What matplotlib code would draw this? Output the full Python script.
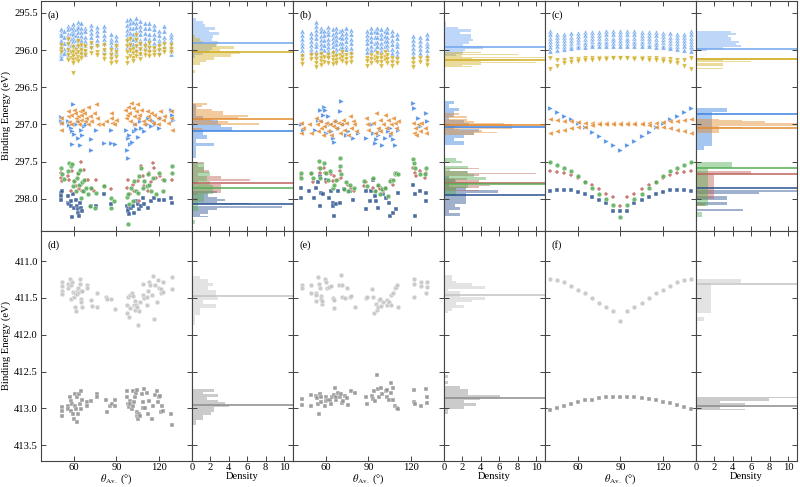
import numpy as np
import matplotlib.pyplot as plt

plt.rcParams['font.family'] = ['Liberation Serif', 'DejaVu Serif']
plt.rcParams['mathtext.fontset'] = 'stix'
plt.rcParams['font.size'] = 7.6

# ---------------- data (theta in deg, binding energy in eV) ----------------
# panel (a): columns of (theta, [energies])
a_lblue = [
    (51.0, [295.72, 295.77, 295.80, 295.86, 295.88, 295.93, 295.96, 296.02, 296.06, 296.11]),
    (53.0, [295.75, 295.83, 295.90, 295.98, 296.04]),
    (55.5, [295.68, 295.72, 295.78, 295.82, 295.88, 295.91, 295.96, 296.00, 296.07]),
    (57.5, [295.71, 295.77, 295.85, 295.93, 296.01]),
    (59.0, [295.65, 295.70, 295.75, 295.79, 295.84, 295.88, 295.93, 295.97, 296.03, 296.08]),
    (61.0, [295.72, 295.80, 295.87, 295.95]),
    (62.5, [295.62, 295.67, 295.71, 295.76, 295.82, 295.86, 295.91, 295.95, 296.01]),
    (64.5, [295.64, 295.70, 295.76, 295.81, 295.87, 295.93, 295.98, 296.04]),
    (67.5, [295.70, 295.75, 295.82, 295.88, 295.93, 296.00, 296.05]),
    (72.0, [295.66, 295.72, 295.77, 295.83, 295.89, 295.94]),
    (76.0, [295.69, 295.74, 295.80, 295.86, 295.92]),
    (81.5, [295.67, 295.73, 295.80, 295.85, 295.91, 295.98, 296.03]),
    (86.0, [295.79, 295.85, 295.89, 295.95, 296.01, 296.07]),
    (89.5, [295.81, 295.86, 295.92, 295.96, 296.02]),
    (97.5, [295.60, 295.66, 295.73, 295.78, 295.84, 295.90, 295.96]),
    (99.5, [295.58, 295.64, 295.71, 295.77, 295.83, 295.89, 295.94, 296.00]),
    (102.0, [295.62, 295.70, 295.78, 295.85, 295.92]),
    (104.0, [295.57, 295.63, 295.69, 295.76, 295.81, 295.87, 295.93, 295.99]),
    (107.0, [295.61, 295.67, 295.73, 295.79, 295.86, 295.91, 295.97, 296.04]),
    (110.0, [295.63, 295.70, 295.77, 295.84, 295.90, 295.96]),
    (113.0, [295.64, 295.71, 295.78, 295.85, 295.92, 295.98]),
    (117.0, [295.66, 295.72, 295.78, 295.84, 295.90, 295.96]),
    (120.5, [295.75, 295.80, 295.86, 295.91, 295.97, 296.03]),
    (124.0, [295.68, 295.75, 295.82, 295.88, 295.95]),
    (129.0, [295.78, 295.83, 295.88, 295.94, 296.00, 296.05]),
]
a_gold = [
    (51.0, [295.93, 295.98, 296.03]),
    (55.5, [295.85, 295.92, 296.00, 296.07, 296.14]),
    (57.5, [296.02, 296.10]),
    (59.0, [295.96, 296.02, 296.08, 296.13, 296.18, 296.31]),
    (61.0, [296.00, 296.05, 296.12]),
    (62.5, [295.88, 295.95, 296.02, 296.09, 296.15]),
    (64.5, [295.93, 296.00, 296.05, 296.11]),
    (67.5, [295.95, 296.01, 296.06]),
    (72.0, [295.90, 295.97, 296.04]),
    (76.0, [295.95, 296.02, 296.07]),
    (81.5, [295.93, 296.00, 296.07, 296.12]),
    (86.0, [296.00, 296.06, 296.12, 296.17]),
    (89.5, [295.94, 296.02, 296.09, 296.16]),
    (97.5, [295.88, 295.95, 296.03, 296.10, 296.17]),
    (99.5, [295.85, 295.93, 296.00, 296.08]),
    (102.0, [295.98, 296.04, 296.11, 296.15]),
    (104.0, [295.80, 295.87, 295.95, 296.02, 296.08]),
    (107.0, [295.92, 295.99, 296.05, 296.12]),
    (110.0, [295.95, 296.01, 296.07]),
    (113.0, [295.90, 295.97, 296.03, 296.08]),
    (117.0, [295.97, 296.03, 296.07]),
    (120.5, [295.95, 296.00, 296.06]),
    (124.0, [295.92, 295.98, 296.03]),
    (129.0, [295.93, 295.98, 296.02]),
]
# panel (a): single points (theta, energy)
a_orange = [
    (51.0, 296.91), (51.0, 296.98), (51.0, 297.08), (55.3, 296.82), (55.3, 296.89),
    (56.4, 296.97), (57.6, 296.87), (58.1, 297.00), (60.0, 296.80), (60.7, 296.85),
    (61.2, 296.91), (61.9, 296.96), (62.8, 296.89), (63.6, 297.00), (64.3, 296.82),
    (64.7, 296.87), (65.2, 296.94), (65.9, 296.80), (67.1, 296.85), (67.6, 296.96),
    (68.3, 296.91), (69.5, 296.76), (69.5, 297.00), (71.4, 296.89), (71.8, 296.96),
    (74.2, 296.85), (75.4, 296.73), (76.1, 296.91), (76.6, 297.00), (80.1, 297.00),
    (82.5, 296.96), (86.1, 296.85), (86.5, 296.91), (87.2, 296.98), (88.4, 297.00),
    (89.6, 296.94), (96.0, 296.80), (96.7, 296.91), (97.4, 296.87), (98.4, 296.76),
    (99.1, 296.85), (99.8, 296.96), (100.3, 296.71), (101.5, 296.78), (102.2, 296.89),
    (102.7, 297.00), (103.8, 296.82), (104.5, 296.73), (105.0, 296.91), (106.2, 296.87),
    (107.4, 296.80), (108.6, 296.96), (109.8, 297.00), (111.7, 296.82), (112.1, 296.89),
    (113.3, 296.94), (114.5, 296.85), (115.7, 296.98), (116.9, 296.87), (119.2, 296.91),
    (119.7, 297.00), (121.1, 296.82), (122.8, 296.94), (124.0, 296.89), (126.3, 296.98),
    (128.7, 296.82), (128.7, 296.91), (129.4, 297.08),
]
a_blue = [
    (51.0, 296.90), (51.0, 296.95), (51.7, 296.98), (55.3, 296.96), (56.4, 297.01),
    (57.6, 297.05), (58.8, 297.09), (58.8, 297.26), (59.5, 296.73), (60.0, 297.13),
    (61.2, 297.00), (62.4, 296.96), (62.8, 297.18), (64.3, 297.27), (64.7, 297.08),
    (65.9, 297.14), (67.1, 297.02), (68.3, 297.00), (71.8, 297.19), (72.3, 297.35),
    (75.4, 297.08), (81.3, 297.25), (86.1, 297.07), (86.5, 297.25), (88.9, 297.26),
    (96.7, 297.07), (97.4, 297.34), (97.9, 297.45), (98.4, 297.18), (99.1, 297.14),
    (99.8, 297.26), (100.8, 297.23), (102.2, 297.09), (103.1, 297.00), (103.8, 297.06),
    (105.5, 297.17), (106.9, 296.96), (107.4, 297.05), (109.8, 297.09), (111.7, 297.00),
    (112.6, 296.91), (114.5, 297.02), (115.7, 296.96), (117.3, 297.00), (120.4, 297.05),
    (121.1, 296.91), (128.7, 296.80), (129.2, 296.87), (129.9, 296.94),
]
a_green = [
    (51.0, 297.58), (51.7, 297.67), (52.9, 297.73), (55.3, 297.63), (56.4, 297.52),
    (57.6, 297.56), (58.8, 297.53), (59.5, 297.83), (60.0, 297.76), (61.2, 297.90),
    (61.9, 297.72), (62.8, 297.65), (63.6, 297.81), (64.3, 297.61), (64.7, 297.99),
    (65.9, 297.77), (66.6, 297.89), (67.1, 297.74), (68.3, 297.85), (69.5, 297.94),
    (71.4, 298.10), (71.8, 297.85), (74.7, 298.12), (75.4, 297.92), (81.3, 297.83),
    (86.1, 297.99), (86.1, 298.12), (88.4, 298.03), (97.4, 297.98), (97.9, 298.34),
    (98.4, 297.94), (99.1, 298.07), (100.3, 297.85), (101.5, 298.03), (102.7, 297.76),
    (103.8, 297.90), (105.0, 297.92), (106.2, 297.69), (107.4, 297.58), (108.6, 297.85),
    (109.8, 297.76), (111.7, 297.83), (112.1, 297.67), (113.3, 297.81), (114.5, 297.90),
    (115.7, 297.72), (118.1, 297.94), (120.4, 297.65), (122.8, 297.90), (124.0, 297.74),
    (129.2, 297.56), (129.2, 297.65),
]
a_red = [
    (51.0, 297.65), (51.0, 297.72), (51.7, 297.76), (55.3, 297.69), (56.4, 297.74),
    (57.6, 297.90), (58.8, 297.63), (60.0, 297.76), (61.2, 297.83), (62.4, 297.67),
    (63.6, 297.87), (64.7, 297.81), (65.2, 297.50), (65.9, 297.90), (67.1, 297.61),
    (68.3, 297.74), (69.5, 297.75), (71.8, 297.85), (73.0, 297.87), (74.2, 297.90),
    (75.4, 297.74), (81.3, 297.83), (86.1, 297.87), (97.4, 297.85), (98.4, 297.74),
    (99.8, 297.94), (101.5, 297.81), (102.7, 297.90), (105.0, 297.76), (106.2, 298.03),
    (107.4, 297.56), (108.6, 297.69), (109.8, 297.83), (112.1, 297.90), (113.3, 297.65),
    (114.5, 297.78), (115.7, 297.52), (116.9, 297.58), (118.1, 297.72), (121.1, 297.69),
    (122.8, 297.74), (129.2, 297.74),
]
a_dblue = [
    (51.0, 297.92), (51.0, 297.96), (51.0, 298.01), (51.7, 297.90), (55.3, 297.96),
    (55.7, 298.05), (56.4, 298.07), (57.6, 298.03), (58.1, 298.10), (58.8, 298.25),
    (59.5, 297.94), (60.0, 298.12), (61.2, 298.01), (61.9, 298.10), (62.4, 298.14),
    (62.8, 298.19), (63.6, 298.23), (64.3, 298.05), (64.7, 298.12), (65.9, 298.16),
    (67.1, 297.90), (71.8, 298.10), (75.4, 298.10), (81.3, 297.94), (86.1, 298.07),
    (97.4, 298.10), (97.9, 298.14), (98.4, 298.16), (99.1, 298.21), (100.3, 298.12),
    (101.5, 298.10), (102.7, 298.19), (103.8, 298.03), (105.0, 298.07), (106.2, 298.14),
    (107.4, 298.10), (108.6, 297.99), (109.8, 298.07), (112.1, 298.12), (114.5, 298.03),
    (116.9, 297.99), (120.4, 298.01), (124.0, 298.01), (128.7, 297.99), (129.2, 298.05),
]

# panel (b)
b_lblue = [
    (42.5, [295.75, 295.80, 295.85, 295.90, 295.95, 296.00, 296.05]),
    (48.9, [295.77, 295.82, 295.88, 295.93, 295.98, 296.03]),
    (53.1, [295.62, 295.68, 295.73, 295.79, 295.84, 295.90, 295.95, 296.01, 296.06]),
    (56.1, [295.70, 295.75, 295.81, 295.86, 295.92, 295.97, 296.03]),
    (58.5, [295.74, 295.80, 295.87, 295.93, 296.00]),
    (61.3, [295.69, 295.74, 295.79, 295.85, 295.90, 295.96, 296.01, 296.06]),
    (64.5, [295.72, 295.78, 295.84, 295.89, 295.95, 296.01]),
    (67.3, [295.70, 295.76, 295.81, 295.87, 295.92, 295.98, 296.04]),
    (69.5, [295.75, 295.82, 295.90, 295.97]),
    (71.6, [295.73, 295.79, 295.84, 295.90, 295.96, 296.02]),
    (74.4, [295.71, 295.77, 295.82, 295.88, 295.94, 295.99]),
    (77.5, [295.73, 295.79, 295.85, 295.91, 295.97, 296.03]),
    (88.7, [295.74, 295.80, 295.85, 295.91, 295.97, 296.02]),
    (92.2, [295.70, 295.76, 295.82, 295.88, 295.94, 296.00]),
    (94.5, [295.75, 295.83, 295.90, 295.98]),
    (96.2, [295.70, 295.76, 295.83, 295.89, 295.95, 296.02]),
    (99.3, [295.72, 295.78, 295.84, 295.90, 295.96, 296.01]),
    (101.5, [295.74, 295.81, 295.88, 295.95]),
    (103.3, [295.70, 295.76, 295.82, 295.88, 295.93, 295.99]),
    (106.9, [295.74, 295.80, 295.86, 295.92, 295.98, 296.04]),
    (110.4, [295.79, 295.84, 295.90, 295.95, 296.01, 296.06]),
    (121.8, [295.81, 295.87, 295.92, 295.97, 296.03, 296.08]),
    (126.5, [295.83, 295.88, 295.93, 295.98, 296.04]),
    (131.3, [295.79, 295.84, 295.90, 295.95, 296.00, 296.06]),
]
b_gold = [
    (42.5, [296.08, 296.14, 296.19]),
    (48.9, [296.06, 296.12]),
    (53.1, [296.07, 296.12, 296.18, 296.23]),
    (56.1, [296.05, 296.10, 296.15, 296.20]),
    (58.5, [296.09, 296.16]),
    (61.3, [296.06, 296.11, 296.17]),
    (64.5, [296.04, 296.09, 296.14, 296.19]),
    (67.3, [296.08, 296.13, 296.18]),
    (69.5, [296.06, 296.12]),
    (71.6, [296.03, 296.09, 296.15]),
    (74.4, [296.07, 296.12, 296.17]),
    (77.5, [296.05, 296.10, 296.16]),
    (88.7, [296.10, 296.15, 296.21]),
    (92.2, [296.07, 296.12, 296.17]),
    (94.5, [296.09, 296.14]),
    (96.2, [296.04, 296.10, 296.16]),
    (99.3, [296.06, 296.11, 296.16, 296.21]),
    (101.5, [296.03, 296.09, 296.14]),
    (103.3, [296.07, 296.12, 296.18]),
    (106.9, [296.10, 296.16, 296.22]),
    (110.4, [296.12, 296.18]),
    (121.8, [296.12, 296.17, 296.23]),
    (126.5, [296.11, 296.16]),
    (131.3, [296.10, 296.15, 296.20]),
]
b_orange = [
    (42.2, 296.98), (42.2, 297.11), (43.4, 297.05), (48.1, 297.00), (49.3, 297.11),
    (52.9, 296.91), (53.4, 297.00), (54.1, 297.09), (55.3, 296.96), (56.4, 297.05),
    (57.6, 297.14), (58.8, 297.02), (60.0, 296.98), (61.2, 297.09), (62.4, 297.00),
    (63.6, 297.14), (64.7, 297.02), (65.9, 296.96), (67.1, 297.05), (68.3, 296.98),
    (69.5, 297.11), (70.7, 297.00), (71.8, 296.94), (73.0, 297.07), (74.2, 296.98),
    (75.4, 297.14), (76.6, 296.89), (77.8, 297.05), (79.0, 296.96), (80.1, 297.00),
    (81.3, 297.09), (88.4, 296.91), (88.9, 297.00), (89.6, 297.07), (93.2, 296.98),
    (94.4, 297.11), (95.5, 296.85), (96.7, 297.05), (97.9, 296.94), (98.4, 297.09),
    (100.3, 297.00), (101.5, 296.87), (102.7, 297.05), (103.8, 296.94), (105.0, 297.11),
    (106.2, 297.00), (107.4, 296.91), (108.6, 296.98), (109.8, 297.05), (110.9, 296.96),
    (121.6, 296.98), (122.1, 297.11), (122.8, 297.05), (124.0, 297.14), (125.2, 297.00),
    (126.3, 297.09), (127.5, 296.98), (129.9, 297.05), (131.1, 297.11),
]
b_blue = [
    (42.2, 297.00), (43.4, 297.08), (52.4, 297.07), (54.1, 296.94), (55.3, 296.80),
    (56.4, 296.96), (57.6, 296.87), (58.8, 296.76), (59.5, 296.80), (60.0, 297.11),
    (61.2, 296.89), (62.4, 297.00), (63.6, 297.09), (64.7, 297.18), (65.9, 297.23),
    (67.1, 296.96), (68.3, 297.05), (69.5, 296.82), (70.7, 296.69), (71.8, 297.00),
    (74.2, 297.14), (75.4, 297.09), (79.0, 297.18), (82.5, 297.11), (88.4, 297.18),
    (92.7, 297.00), (93.2, 297.11), (94.4, 297.25), (95.5, 297.20), (96.7, 297.14),
    (98.4, 297.07), (99.8, 297.27), (101.5, 297.18), (103.8, 297.09), (105.0, 297.05),
    (106.2, 297.14), (107.4, 297.20), (108.6, 297.27), (110.9, 297.07), (121.6, 296.71),
    (122.1, 296.78), (125.2, 296.91), (126.3, 297.02), (131.1, 296.85), (131.6, 296.96),
]
b_green = [
    (42.2, 297.65), (42.2, 297.72), (49.3, 297.65), (50.5, 297.72), (54.8, 297.49),
    (55.3, 297.58), (55.7, 297.72), (58.8, 297.52), (60.0, 297.65), (61.2, 297.74),
    (62.4, 297.63), (64.7, 297.85), (65.9, 297.81), (67.1, 297.74), (69.5, 297.45),
    (69.9, 297.56), (70.7, 297.67), (73.0, 297.87), (74.2, 297.78), (75.4, 297.90),
    (76.6, 297.81), (80.1, 297.85), (87.2, 297.76), (88.9, 297.83), (93.2, 297.72),
    (94.4, 297.90), (96.7, 297.81), (98.4, 297.94), (99.8, 297.87), (101.5, 297.85),
    (103.8, 297.96), (105.0, 297.76), (107.4, 297.74), (108.6, 297.67), (109.8, 297.65),
    (110.9, 297.67), (121.6, 297.47), (122.1, 297.52), (122.8, 297.58), (126.3, 297.67),
    (129.9, 297.67), (131.1, 297.58),
]
b_red = [
    (42.2, 297.69), (49.3, 297.67), (50.5, 297.78), (54.8, 297.58), (55.3, 297.65),
    (58.8, 297.58), (59.5, 297.65), (60.0, 297.78), (63.6, 297.67), (64.7, 297.76),
    (65.9, 297.69), (68.3, 297.74), (69.5, 297.63), (70.7, 297.72), (75.4, 297.81),
    (77.8, 297.85), (80.1, 297.90), (87.2, 297.83), (88.4, 297.78), (93.2, 297.85),
    (95.5, 297.90), (96.7, 297.83), (98.4, 297.87), (100.3, 297.90), (102.7, 297.85),
    (106.2, 297.74), (107.4, 297.81), (108.6, 297.65), (109.8, 297.67), (121.6, 297.58),
    (122.8, 297.65), (124.0, 297.69), (126.3, 297.63), (129.9, 297.72), (131.1, 297.65),
]
b_dblue = [
    (42.2, 297.85), (42.2, 297.99), (48.1, 297.90), (51.7, 297.99), (52.9, 297.85),
    (54.1, 297.78), (55.3, 297.69), (55.7, 298.10), (56.4, 297.92), (57.6, 297.94),
    (60.0, 297.74), (61.9, 297.99), (63.6, 297.90), (64.7, 298.05), (65.2, 298.10),
    (65.9, 298.23), (67.1, 298.07), (68.3, 297.90), (69.5, 298.05), (73.0, 297.87),
    (76.6, 297.90), (79.0, 298.01), (88.0, 298.14), (88.4, 297.90), (90.8, 298.03),
    (92.0, 297.90), (93.2, 297.74), (94.4, 297.96), (95.5, 298.03), (96.7, 298.12),
    (98.4, 297.85), (100.3, 297.94), (102.7, 297.99), (104.5, 298.05), (105.5, 298.23),
    (107.4, 298.19), (109.3, 298.14), (110.9, 297.92), (121.6, 297.81), (122.8, 297.94),
    (122.8, 298.23), (126.3, 297.90), (131.1, 297.92), (131.1, 298.03),
]

# panel (c): regular angle scan
theta_c = [40, 45, 50, 55, 60, 65, 70, 75, 80, 85, 90, 95, 100, 105, 110, 115, 120, 125, 130, 135, 140]
c_lblue = [
    [295.74, 295.79, 295.84, 295.88, 295.92, 295.96, 296.01],
    [295.78, 295.83, 295.87, 295.91, 295.95, 296.00],
    [295.78, 295.82, 295.86, 295.90, 295.94, 295.98],
    [295.77, 295.82, 295.86, 295.90, 295.94, 295.97],
    [295.77, 295.81, 295.85, 295.89, 295.93, 295.96],
    [295.76, 295.80, 295.85, 295.89, 295.92, 295.96],
    [295.76, 295.80, 295.84, 295.88, 295.92, 295.95],
    [295.76, 295.80, 295.84, 295.88, 295.91, 295.95],
    [295.75, 295.79, 295.84, 295.88, 295.91, 295.95],
    [295.75, 295.79, 295.84, 295.87, 295.91, 295.95],
    [295.75, 295.79, 295.83, 295.87, 295.91, 295.95],
    [295.75, 295.79, 295.84, 295.87, 295.91, 295.95],
    [295.75, 295.79, 295.84, 295.88, 295.91, 295.95],
    [295.76, 295.80, 295.84, 295.88, 295.91, 295.95],
    [295.76, 295.80, 295.84, 295.88, 295.92, 295.95],
    [295.76, 295.80, 295.85, 295.89, 295.92, 295.96],
    [295.77, 295.81, 295.85, 295.89, 295.93, 295.96],
    [295.77, 295.82, 295.86, 295.90, 295.94, 295.97],
    [295.78, 295.82, 295.86, 295.90, 295.94, 295.98],
    [295.78, 295.83, 295.87, 295.91, 295.95, 296.00],
    [295.74, 295.79, 295.84, 295.88, 295.92, 295.96, 296.01],
]
c_gold_up = [296.11, 296.13, 296.13, 296.12, 296.12, 296.11, 296.11, 296.10, 296.10, 296.10, 296.10,
             296.10, 296.10, 296.10, 296.11, 296.11, 296.12, 296.12, 296.13, 296.13, 296.11]
c_gold_lo = [296.26, 296.21, 296.18, 296.16, 296.15, 296.14, 296.13, 296.12, 296.12, 296.11, 296.11,
             296.11, 296.12, 296.12, 296.13, 296.14, 296.15, 296.16, 296.18, 296.21, 296.26]
c_blue = [296.78, 296.83, 296.88, 296.93, 296.98, 297.03, 297.10, 297.16, 297.22, 297.27, 297.34,
          297.27, 297.22, 297.16, 297.10, 297.03, 296.98, 296.93, 296.88, 296.83, 296.78]
c_orange_up = [296.92, 296.94, 296.95, 296.96, 296.97, 296.975, 296.98, 296.98, 296.98, 296.98, 296.98,
               296.98, 296.98, 296.98, 296.98, 296.975, 296.97, 296.96, 296.95, 296.94, 296.92]
c_orange_lo = [297.11, 297.09, 297.07, 297.05, 297.04, 297.03, 297.01, 297.00, 297.00, 297.00, 297.00,
               297.00, 297.00, 297.00, 297.01, 297.03, 297.04, 297.05, 297.07, 297.09, 297.11]
c_green = [297.51, 297.54, 297.58, 297.62, 297.69, 297.77, 297.85, 297.93, 298.00, 298.08, 298.25,
           298.08, 298.00, 297.93, 297.85, 297.77, 297.69, 297.62, 297.58, 297.54, 297.51]
c_red = [297.62, 297.635, 297.65, 297.68, 297.72, 297.78, 297.82, 297.87, 297.93, 297.98, 298.10,
         297.98, 297.93, 297.87, 297.82, 297.78, 297.72, 297.68, 297.65, 297.635, 297.62]
c_dblue = [297.89, 297.88, 297.88, 297.88, 297.91, 297.93, 297.97, 298.01, 298.06, 298.16, 298.16,
           298.16, 298.06, 298.01, 297.97, 297.93, 297.91, 297.88, 297.88, 297.88, 297.89]

# panels (d)-(f): N 1s region
d_light = [
    (51.7, 411.29), (51.7, 411.34), (51.7, 411.40), (51.7, 411.45), (55.3, 411.31),
    (55.7, 411.37), (56.9, 411.25), (57.6, 411.32), (58.1, 411.51), (58.8, 411.29),
    (59.3, 411.42), (59.8, 411.49), (60.5, 411.44), (60.7, 411.62), (61.2, 411.68),
    (61.7, 411.40), (62.1, 411.45), (62.8, 411.37), (63.6, 411.42), (64.0, 411.31),
    (64.0, 411.24), (64.5, 411.51), (65.0, 411.55), (65.2, 411.41), (65.4, 411.63),
    (65.9, 411.41), (69.2, 411.32), (69.2, 411.37), (72.3, 411.53), (73.0, 411.61),
    (75.9, 411.62), (76.1, 411.43), (82.5, 411.49), (83.5, 411.52), (86.3, 411.52),
    (89.1, 411.65), (97.2, 411.60), (97.7, 411.71), (98.4, 411.49), (98.9, 411.76),
    (99.6, 411.46), (100.0, 411.64), (100.8, 411.44), (101.5, 411.47), (102.4, 411.59),
    (103.1, 411.67), (103.1, 411.54), (103.8, 411.60), (104.3, 411.62), (105.5, 411.87),
    (106.2, 411.68), (106.7, 411.55), (108.6, 411.31), (109.0, 411.46), (109.5, 411.50),
    (111.4, 411.49), (111.9, 411.60), (112.6, 411.41), (113.3, 411.29), (113.8, 411.33),
    (115.0, 411.46), (116.2, 411.20), (116.6, 411.78), (117.3, 411.32), (119.0, 411.56),
    (119.7, 411.26), (120.4, 411.37), (121.6, 411.38), (121.6, 411.44), (122.8, 411.42),
    (123.3, 411.28), (129.2, 411.22), (129.2, 411.38),
]
d_dark = [
    (51.7, 412.98), (51.7, 413.03), (51.7, 413.10), (55.3, 412.97), (55.7, 413.01),
    (56.9, 412.84), (57.4, 413.03), (58.1, 412.90), (58.8, 412.94), (59.3, 413.08),
    (59.8, 413.14), (60.5, 412.97), (60.5, 412.81), (61.2, 413.01), (61.7, 413.18),
    (62.1, 412.85), (62.6, 413.08), (63.6, 412.81), (64.0, 412.94), (64.5, 413.01),
    (65.0, 412.76), (65.9, 412.88), (69.2, 412.92), (69.2, 412.97), (72.3, 412.90),
    (75.9, 412.80), (75.9, 412.85), (82.5, 412.89), (83.5, 413.05), (85.8, 412.97),
    (86.8, 412.94), (89.1, 412.89), (89.1, 412.97), (97.2, 412.76), (97.7, 412.85),
    (98.1, 412.94), (98.6, 412.98), (99.6, 412.90), (100.0, 412.94), (100.8, 413.01),
    (101.5, 412.97), (101.9, 412.76), (102.4, 412.92), (103.1, 412.85), (103.8, 412.79),
    (104.3, 412.75), (104.3, 413.10), (104.8, 413.05), (105.5, 413.14), (106.2, 413.07),
    (106.7, 413.10), (107.9, 412.81), (108.6, 412.92), (109.0, 413.00), (109.5, 412.74),
    (110.5, 412.99), (111.4, 412.79), (112.6, 413.08), (113.3, 412.90), (115.0, 413.14),
    (116.2, 412.97), (117.3, 412.82), (118.5, 412.76), (119.7, 412.92), (120.4, 412.84),
    (120.9, 412.83), (121.4, 413.05), (122.1, 412.97), (122.8, 413.03), (128.5, 413.07),
    (129.2, 413.23),
]
e_light = [
    (42.5, 411.33), (42.5, 411.37), (49.1, 411.33), (49.1, 411.44), (52.6, 411.44),
    (53.1, 411.46), (53.1, 411.54), (54.3, 411.22), (55.0, 411.31), (55.5, 411.37),
    (56.0, 411.48), (56.2, 411.52), (56.7, 411.58), (56.9, 411.54), (59.0, 411.24),
    (59.8, 411.28), (60.9, 411.37), (62.1, 411.35), (63.1, 411.34), (65.0, 411.50),
    (65.4, 411.53), (65.7, 411.64), (69.0, 411.33), (70.2, 411.19), (70.9, 411.32),
    (71.6, 411.49), (73.3, 411.50), (74.9, 411.37), (76.8, 411.49), (77.5, 411.47),
    (80.8, 411.62), (88.2, 411.50), (88.7, 411.49), (92.9, 411.38), (93.4, 411.49),
    (93.9, 411.71), (95.3, 411.58), (96.3, 411.67), (97.0, 411.63), (97.7, 411.53),
    (98.1, 411.51), (98.6, 411.61), (100.5, 411.56), (102.9, 411.59), (103.3, 411.53),
    (104.8, 411.55), (105.7, 411.60), (106.4, 411.46), (107.6, 411.44), (108.8, 411.37),
    (109.5, 411.35), (110.5, 411.32), (111.2, 411.62), (122.3, 411.24), (122.3, 411.31),
    (122.6, 411.49), (127.1, 411.29), (127.1, 411.34), (130.9, 411.44), (131.3, 411.29),
    (131.8, 411.35),
]
e_dark = [
    (42.5, 412.87), (42.5, 412.96), (49.1, 412.82), (49.1, 412.97), (53.1, 412.83),
    (53.8, 412.86), (54.3, 412.94), (55.0, 413.08), (55.5, 412.81), (56.0, 412.85),
    (56.0, 412.92), (59.0, 412.97), (59.8, 412.85), (60.2, 412.90), (61.4, 412.88),
    (62.6, 412.89), (63.1, 412.94), (63.8, 412.85), (65.4, 412.82), (66.2, 412.72),
    (66.9, 412.88), (67.3, 412.84), (68.5, 412.79), (69.7, 412.85), (70.2, 412.81),
    (70.9, 412.93), (72.1, 412.90), (73.3, 412.83), (74.9, 412.86), (75.6, 412.95),
    (77.3, 412.76), (80.4, 412.79), (88.2, 412.84), (88.7, 412.94), (92.9, 412.83),
    (93.4, 412.87), (93.9, 412.76), (94.6, 412.90), (96.3, 412.55), (97.0, 412.74),
    (97.7, 412.85), (98.6, 412.72), (100.0, 412.81), (102.4, 412.76), (102.9, 412.75),
    (103.3, 412.85), (104.8, 412.88), (105.7, 412.79), (106.4, 412.65), (107.2, 412.72),
    (107.6, 412.88), (108.8, 412.97), (110.0, 412.99), (111.2, 413.01), (122.3, 412.75),
    (122.3, 412.92), (123.0, 412.94), (127.1, 412.97), (130.9, 412.73), (131.3, 412.84),
    (131.8, 412.93),
]
f_light = [411.24, 411.26, 411.29, 411.34, 411.39, 411.44, 411.50, 411.57, 411.62, 411.68, 411.82,
           411.68, 411.62, 411.57, 411.50, 411.44, 411.39, 411.34, 411.29, 411.26, 411.24]
f_dark = [413.02, 412.99, 412.97, 412.94, 412.92, 412.89, 412.88, 412.86, 412.85, 412.84, 412.84,
          412.84, 412.85, 412.86, 412.87, 412.88, 412.91, 412.93, 412.95, 412.98, 413.01]

# reference lines drawn across the histograms
ref_a = {'lb': 295.90, 'gd': 296.02, 'or': 296.93, 'bl': 297.09, 'rd': 297.79, 'gr': 297.85, 'db': 298.07}
ref_b = {'lb': 295.955, 'gd': 296.134, 'or': 297.01, 'bl': 297.04, 'rd': 297.79, 'gr': 297.80, 'db': 297.95}
ref_c = {'lb': 295.98, 'gd': 296.12, 'or': 297.05, 'bl': 296.86, 'rd': 297.66, 'gr': 297.58, 'db': 297.86}
ref_d = {'li': 411.48, 'dk': 412.95}
ref_e = {'li': 411.455, 'dk': 412.86}
ref_f = {'li': 411.31, 'dk': 412.965}

# ---------------- helpers ----------------
def from_cols(cols):
    xs, ys = [], []
    for t, es in cols:
        xs += [t] * len(es)
        ys += es
    return np.array(xs), np.array(ys)

def from_pairs(p):
    arr = np.array(p)
    return arr[:, 0], arr[:, 1]

tc = np.array(theta_c)

style = {
    'lb': ('^', '#6fa6ee'),
    'gd': ('v', '#d2ae22'),
    'bl': ('>', '#3b82e4'),
    'or': ('<', '#e48a2c'),
    'db': ('s', '#2a528f'),
    'gr': ('o', '#55ad55'),
    'rd': ('P', '#c0625c'),
    'li': ('o', '#c2c2c2'),
    'dk': ('s', '#8c8c8c'),
}

top = [
    {'lb': from_cols(a_lblue), 'gd': from_cols(a_gold), 'bl': from_pairs(a_blue),
     'or': from_pairs(a_orange), 'db': from_pairs(a_dblue), 'gr': from_pairs(a_green),
     'rd': from_pairs(a_red)},
    {'lb': from_cols(b_lblue), 'gd': from_cols(b_gold), 'bl': from_pairs(b_blue),
     'or': from_pairs(b_orange), 'db': from_pairs(b_dblue), 'gr': from_pairs(b_green),
     'rd': from_pairs(b_red)},
    {'lb': from_cols(list(zip(theta_c, c_lblue))),
     'gd': (np.concatenate([tc, tc]), np.array(c_gold_up + c_gold_lo)),
     'bl': (tc, np.array(c_blue)),
     'or': (np.concatenate([tc, tc]), np.array(c_orange_up + c_orange_lo)),
     'db': (tc, np.array(c_dblue)), 'gr': (tc, np.array(c_green)), 'rd': (tc, np.array(c_red))},
]
bottom = [
    {'li': from_pairs(d_light), 'dk': from_pairs(d_dark)},
    {'li': from_pairs(e_light), 'dk': from_pairs(e_dark)},
    {'li': (tc, np.array(f_light)), 'dk': (tc, np.array(f_dark))},
]
refs_top = [ref_a, ref_b, ref_c]
refs_bot = [ref_d, ref_e, ref_f]
bins_top = [14, 14, 10]
bins_bot = [14, 14, 10]
letters = ['(a)', '(b)', '(c)', '(d)', '(e)', '(f)']

fig = plt.figure(figsize=(8, 4.87), dpi=100)
gs = fig.add_gridspec(2, 6, width_ratios=[1.5, 1, 1.5, 1, 1.5, 1],
                      left=0.051, right=0.996, top=0.998, bottom=0.054,
                      wspace=0, hspace=0)

def frame(ax):
    for s in ax.spines.values():
        s.set_color('#444444')
        s.set_linewidth(0.8)
    ax.tick_params(direction='in', top=True, right=True, length=3.5, width=0.7,
                   color='#444444', pad=2)

rows = [(top, refs_top, bins_top, (298.43, 295.34), np.arange(295.5, 298.01, 0.5),
         ['lb', 'gd', 'bl', 'or', 'db', 'rd', 'gr']),
        (bottom, refs_bot, bins_bot, (413.71, 410.59), np.arange(411.0, 413.51, 0.5),
         ['li', 'dk'])]

for r, (panels, refs, bins, ylim, yt, order) in enumerate(rows):
    for p in range(3):
        ax = fig.add_subplot(gs[r, 2 * p])
        hx = fig.add_subplot(gs[r, 2 * p + 1])
        data = panels[p]
        for k in order:
            m, c = style[k]
            x, y = data[k]
            sz = 12 if m in ('s', 'o', 'P') else 14
            ax.scatter(x, y, marker=m, s=sz, color=c, alpha=0.85,
                       edgecolors='white', linewidths=0.35, zorder=3)
            hx.hist(y, bins=bins[p], orientation='horizontal', density=True,
                    color=c, alpha=0.45, histtype='stepfilled')
            hx.axhline(refs[p][k], color=c, lw=1.1)
        for a in (ax, hx):
            a.set_ylim(*ylim)
            a.set_yticks(yt)
            frame(a)
        ax.set_xlim(36.3, 143.7)
        ax.set_xticks([60, 90, 120])
        hx.set_xlim(0, 10.95)
        hx.set_xticks([0, 2, 4, 6, 8, 10])
        hx.set_yticklabels([])
        if p == 0:
            ax.set_ylabel('Binding Energy (eV)', labelpad=2)
        else:
            ax.set_yticklabels([])
        if r == 1:
            ax.set_xlabel(r'$\theta_{\mathrm{Av.}}$ (°)', labelpad=0)
            hx.set_xlabel('Density', labelpad=0)
        else:
            ax.set_xticklabels([])
            hx.set_xticklabels([])
        ax.text(0.045, 0.958, letters[3 * r + p], transform=ax.transAxes,
                va='top', ha='left')

fig.savefig('out.png', dpi=100)
